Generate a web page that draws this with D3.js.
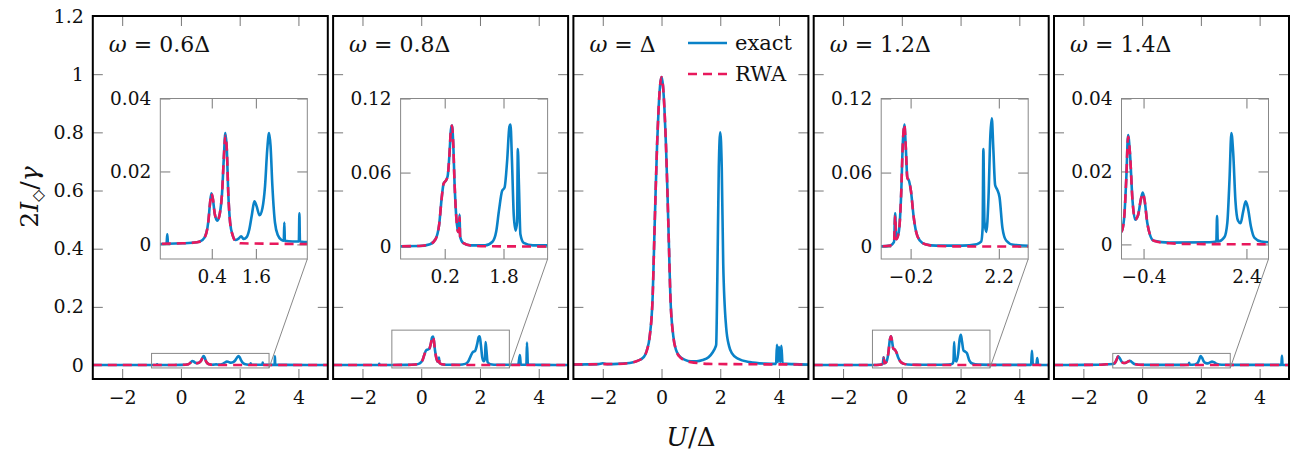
<!DOCTYPE html>
<html>
<head>
<meta charset="utf-8">
<script src="https://cdn.jsdelivr.net/npm/d3@7"></script>
<style>
  body { margin: 0; background: #fff; }
  text { font-family: "DejaVu Serif", serif; fill: #111; }
</style>
</head>
<body>
<svg id="chart" width="1291" height="452"></svg>
<script>
// values, [U/Δ, 2I/γ]
const omegaLabels = ["0.6", "0.8", "", "1.2", "1.4"];

const exact06 = [[-3, 0], [-1.5, 0], [-0.83, 0.0002], [-0.81, 0.0028], [-0.79, 0.0002], [-0.4, 0.0003], [0, 0.0006],
    [0.15, 0.0012], [0.25, 0.003], [0.31, 0.0065], [0.35, 0.011], [0.39, 0.014], [0.43, 0.0125], [0.48, 0.0085],
    [0.55, 0.0065], [0.62, 0.0085], [0.68, 0.014], [0.73, 0.024], [0.77, 0.0305], [0.81, 0.026], [0.85, 0.014],
    [0.9, 0.006], [0.97, 0.0025], [1.05, 0.0012], [1.12, 0.0015], [1.2, 0.0022], [1.27, 0.0015], [1.35, 0.002],
    [1.42, 0.004], [1.49, 0.008], [1.56, 0.0118], [1.62, 0.0105], [1.7, 0.008], [1.78, 0.01], [1.85, 0.016],
    [1.91, 0.026], [1.96, 0.0305], [2.0, 0.027], [2.05, 0.016], [2.12, 0.006], [2.2, 0.0025], [2.3, 0.0012],
    [2.36, 0.001], [2.375, 0.006], [2.39, 0.001], [2.6, 0.0008], [2.77, 0.0008], [2.785, 0.0085], [2.8, 0.0008],
    [3.1, 0.0006], [3.19, 0.0006], [3.2, 0.03], [3.21, 0.0006], [3.6, 0.0004], [5, 0]];
const rwa06 = [[-3, 0], [-0.4, 0.0003], [0, 0.0006], [0.15, 0.0012], [0.25, 0.003], [0.31, 0.0065], [0.35, 0.011],
    [0.39, 0.014], [0.43, 0.0125], [0.48, 0.0085], [0.55, 0.0065], [0.62, 0.0085], [0.68, 0.014], [0.73, 0.024],
    [0.77, 0.0298], [0.81, 0.026], [0.85, 0.014], [0.9, 0.006], [0.97, 0.0025], [1.05, 0.0008], [1.2, 0.0003], [5, 0]];

const exact08 = [[-3, 0], [-1.45, 0.0003], [-1.43, 0.004], [-1.41, 0.0003], [-0.5, 0.0005], [-0.2, 0.002],
    [-0.05, 0.006], [0.05, 0.018], [0.12, 0.04], [0.17, 0.051], [0.22, 0.053], [0.28, 0.057], [0.33, 0.075],
    [0.37, 0.095], [0.4, 0.098], [0.43, 0.085], [0.47, 0.05], [0.52, 0.022], [0.56, 0.012], [0.59, 0.012],
    [0.605, 0.026], [0.62, 0.008], [0.7, 0.003], [0.9, 0.001], [1.3, 0.001], [1.5, 0.004], [1.6, 0.012],
    [1.68, 0.03], [1.76, 0.045], [1.83, 0.048], [1.9, 0.07], [1.96, 0.097], [1.99, 0.099], [2.03, 0.07],
    [2.08, 0.025], [2.13, 0.013], [2.17, 0.02], [2.19, 0.079], [2.22, 0.05], [2.26, 0.01], [2.35, 0.003],
    [2.6, 0.001], [3.3, 0.001], [3.36, 0.034], [3.39, 0.001], [3.58, 0.001], [3.6, 0.077], [3.63, 0.002],
    [4, 0.0005], [5, 0]];
const rwa08 = [[-3, 0], [-0.5, 0.0005], [-0.2, 0.002], [-0.05, 0.006], [0.05, 0.018], [0.12, 0.04], [0.17, 0.051],
    [0.22, 0.053], [0.28, 0.057], [0.33, 0.075], [0.37, 0.095], [0.4, 0.098], [0.43, 0.085], [0.47, 0.05],
    [0.52, 0.022], [0.56, 0.012], [0.59, 0.012], [0.605, 0.024], [0.62, 0.008], [0.7, 0.003], [0.9, 0.001],
    [1.3, 0.0003], [5, 0]];

const exact10 = [[-3, 0.002], [-2.15, 0.003], [-2.0, 0.006], [-1.85, 0.003], [-1.5, 0.004], [-1, 0.009],
    [-0.8, 0.015], [-0.6, 0.028], [-0.5, 0.05], [-0.4, 0.1], [-0.3, 0.24], [-0.25, 0.42], [-0.2, 0.6],
    [-0.15, 0.76], [-0.1, 0.88], [-0.05, 0.96], [0, 0.99], [0.05, 0.96], [0.1, 0.88], [0.15, 0.76], [0.2, 0.6],
    [0.25, 0.42], [0.3, 0.24], [0.4, 0.1], [0.5, 0.05], [0.6, 0.032], [0.8, 0.018], [1.0, 0.013], [1.2, 0.013],
    [1.4, 0.017], [1.6, 0.027], [1.75, 0.045], [1.82, 0.058], [1.86, 0.07], [1.9, 0.3], [1.95, 0.68],
    [2.0, 0.8], [2.05, 0.68], [2.1, 0.35], [2.2, 0.13], [2.3, 0.065], [2.4, 0.04], [2.6, 0.022], [3.0, 0.01],
    [3.5, 0.005], [3.9, 0.004], [3.93, 0.07], [3.96, 0.01], [4.0, 0.062], [4.04, 0.01], [4.08, 0.066],
    [4.12, 0.005], [4.5, 0.003], [5, 0.002]];
const rwa10 = [[-3, 0.002], [-2, 0.003], [-1.5, 0.004], [-1, 0.009], [-0.8, 0.015], [-0.6, 0.028], [-0.5, 0.05],
    [-0.4, 0.1], [-0.3, 0.24], [-0.25, 0.42], [-0.2, 0.6], [-0.15, 0.76], [-0.1, 0.88], [-0.05, 0.96], [0, 0.99],
    [0.05, 0.96], [0.1, 0.88], [0.15, 0.76], [0.2, 0.6], [0.25, 0.42], [0.3, 0.24], [0.4, 0.1], [0.5, 0.05],
    [0.6, 0.03], [0.8, 0.016], [1.0, 0.01], [1.3, 0.006], [1.6, 0.004], [2.5, 0.003], [5, 0.002]];

const exact12 = [[-3, 0], [-1, 0.0003], [-0.75, 0.001], [-0.65, 0.004], [-0.62, 0.027], [-0.59, 0.006],
    [-0.52, 0.012], [-0.46, 0.04], [-0.41, 0.085], [-0.37, 0.099], [-0.33, 0.08], [-0.29, 0.056], [-0.24, 0.053],
    [-0.19, 0.045], [-0.12, 0.025], [-0.05, 0.012], [0.05, 0.005], [0.2, 0.002], [0.5, 0.0008], [1.2, 0.0008],
    [1.6, 0.002], [1.72, 0.004], [1.76, 0.015], [1.78, 0.079], [1.81, 0.02], [1.86, 0.012], [1.92, 0.04],
    [1.97, 0.09], [2.01, 0.104], [2.05, 0.08], [2.1, 0.05], [2.16, 0.046], [2.22, 0.04], [2.3, 0.015],
    [2.4, 0.005], [2.6, 0.0015], [3.5, 0.0005], [4.4, 0.0005], [4.43, 0.049], [4.46, 0.001], [4.58, 0.001],
    [4.61, 0.024], [4.64, 0.001], [5, 0]];
const rwa12 = [[-3, 0], [-1, 0.0003], [-0.75, 0.001], [-0.65, 0.004], [-0.62, 0.025], [-0.59, 0.006],
    [-0.52, 0.012], [-0.46, 0.04], [-0.41, 0.085], [-0.37, 0.099], [-0.33, 0.08], [-0.29, 0.056], [-0.24, 0.053],
    [-0.19, 0.045], [-0.12, 0.025], [-0.05, 0.012], [0.05, 0.005], [0.2, 0.002], [0.5, 0.0005], [1.2, 0.0002],
    [5, 0]];

const exact14 = [[-3, 0], [-2, 0.0004], [-1.5, 0.001], [-1.2, 0.0025], [-1.0, 0.0035], [-0.93, 0.007],
    [-0.87, 0.018], [-0.82, 0.03], [-0.77, 0.025], [-0.7, 0.012], [-0.63, 0.0068], [-0.55, 0.008],
    [-0.47, 0.0125], [-0.42, 0.0142], [-0.37, 0.012], [-0.3, 0.006], [-0.22, 0.0025], [-0.12, 0.001],
    [0.3, 0.0005], [1.4, 0.0006], [1.58, 0.0008], [1.6, 0.0078], [1.62, 0.0008], [1.8, 0.002], [1.88, 0.006],
    [1.94, 0.018], [1.99, 0.0305], [2.04, 0.025], [2.1, 0.012], [2.17, 0.0065], [2.24, 0.0058], [2.31, 0.009],
    [2.38, 0.0118], [2.44, 0.01], [2.52, 0.005], [2.62, 0.0018], [2.8, 0.0008], [3.5, 0.0004], [4.74, 0.0004],
    [4.76, 0.032], [4.78, 0.0005], [5, 0]];
const rwa14 = [[-3, 0], [-2, 0.0004], [-1.5, 0.001], [-1.2, 0.0025], [-1.0, 0.0035], [-0.93, 0.007],
    [-0.87, 0.018], [-0.82, 0.0295], [-0.77, 0.025], [-0.7, 0.012], [-0.63, 0.0068], [-0.55, 0.008],
    [-0.47, 0.0125], [-0.42, 0.014], [-0.37, 0.012], [-0.3, 0.006], [-0.22, 0.0025], [-0.12, 0.001],
    [0.3, 0.0003], [1, 0.0001], [5, 0]];

const mainXTicks = [-2, 0, 2, 4];
const mainYTicks = [0, 0.2, 0.4, 0.6, 0.8, 1, 1.2];
const insetXTicks = [[0.4, 1.6], [0.2, 1.8], null, [-0.2, 2.2], [-0.4, 2.4]];
const insetYTicks = [[0, 0.02, 0.04], [0, 0.06, 0.12], null, [0, 0.06, 0.12], [0, 0.02, 0.04]];
const insetYDomain = [[-0.004, 0.04], [-0.01, 0.12], null, [-0.01, 0.12], [-0.004, 0.04]];

const exactSeries = [exact06, exact08, exact10, exact12, exact14];
const rwaSeries = [rwa06, rwa08, rwa10, rwa12, rwa14];

const blue = "#0a82c8";
const red = "#e8185c";
const panelW = 235, panelStep = 240.3, panelX0 = 92.8;
const plotTop = 16, plotBottom = 379;
const inset = {left: 67.5, width: 147, top: 98.5, bottom: 259};

const svg = d3.select("#chart");

const x = d3.scaleLinear().domain([-3, 5]).range([0, panelW]);
const y = d3.scaleLinear().domain([-0.048, 1.2]).range([plotBottom, plotTop]);
const fmt = d3.format("~g");

function drawCurves(g, xs, ys, i, clipId) {
    const line = d3.line()
        .x(d => xs(d[0]))
        .y(d => ys(d[1]))
        .curve(d3.curveMonotoneX);
    const cg = g.append("g").attr("clip-path", `url(#${clipId})`);
    cg.append("path")
        .datum(exactSeries[i])
        .attr("d", line)
        .attr("fill", "none")
        .attr("stroke", blue)
        .attr("stroke-width", 2.6)
        .attr("stroke-linejoin", "round");
    cg.append("path")
        .datum(rwaSeries[i])
        .attr("d", line)
        .attr("fill", "none")
        .attr("stroke", red)
        .attr("stroke-width", 2.6)
        .attr("stroke-dasharray", "9,6");
}

function mirroredTicks(g, xs, ys, xTicks, yTicks, x0, x1, y0, y1, labelX, labelY, size) {
    const tickColor = "#777";
    const tickLen = 10;
    g.append("g")
        .attr("transform", `translate(0,${y1})`)
        .call(d3.axisBottom(xs).tickValues(xTicks).tickSize(-tickLen).tickPadding(labelX.pad)
            .tickFormat(labelX.show ? fmt : ""))
        .call(a => a.select(".domain").remove());
    g.append("g")
        .attr("transform", `translate(0,${y0})`)
        .call(d3.axisTop(xs).tickValues(xTicks).tickSize(-tickLen).tickFormat(""))
        .call(a => a.select(".domain").remove());
    g.append("g")
        .attr("transform", `translate(${x0},0)`)
        .call(d3.axisLeft(ys).tickValues(yTicks).tickSize(-tickLen).tickPadding(labelY.pad)
            .tickFormat(labelY.show ? fmt : ""))
        .call(a => a.select(".domain").remove());
    g.append("g")
        .attr("transform", `translate(${x1},0)`)
        .call(d3.axisRight(ys).tickValues(yTicks).tickSize(-tickLen).tickFormat(""))
        .call(a => a.select(".domain").remove());
    g.selectAll(".tick line").attr("stroke", tickColor).attr("stroke-width", 1);
    g.selectAll(".tick text")
        .attr("font-family", "DejaVu Serif, serif")
        .attr("font-size", size)
        .attr("fill", "#111");
}

omegaLabels.forEach((om, i) => {
    const g = svg.append("g").attr("transform", `translate(${panelX0 + i * panelStep},0)`);
    const clipId = "clip" + i;
    g.append("clipPath").attr("id", clipId)
        .append("rect").attr("x", 0).attr("y", plotTop).attr("width", panelW).attr("height", plotBottom - plotTop);

    const axesG = g.append("g");
    mirroredTicks(axesG, x, y, mainXTicks, mainYTicks, 0, panelW, plotTop, plotBottom,
        {show: true, pad: 12}, {show: i === 0, pad: 9}, 19);

    drawCurves(g, x, y, i, clipId);

    // title
    const t = g.append("text").attr("x", 16).attr("y", 52).attr("font-size", 22);
    t.append("tspan").attr("font-style", "italic").text("ω");
    t.append("tspan").attr("dx", 7).text("=");
    t.append("tspan").attr("dx", 7).text(om === "" ? "Δ" : `${om}Δ`);

    if (insetXTicks[i]) {
        const ix = d3.scaleLinear().domain([-1, 3]).range([inset.left, inset.left + inset.width]);
        const iy = d3.scaleLinear().domain(insetYDomain[i]).range([inset.bottom, inset.top]);
        const spyTop = insetYDomain[i][1];

        // zoom box on the main axes and the connecting line
        g.append("rect")
            .attr("x", x(-1)).attr("y", y(spyTop))
            .attr("width", x(3) - x(-1)).attr("height", y(-0.01) - y(spyTop))
            .attr("fill", "none").attr("stroke", "#888").attr("stroke-width", 1);
        g.append("line")
            .attr("x1", x(3)).attr("y1", y(-0.01))
            .attr("x2", inset.left + inset.width).attr("y2", inset.bottom)
            .attr("stroke", "#888").attr("stroke-width", 1);

        const ig = g.append("g");
        const iclip = "iclip" + i;
        ig.append("clipPath").attr("id", iclip)
            .append("rect").attr("x", inset.left).attr("y", inset.top)
            .attr("width", inset.width).attr("height", inset.bottom - inset.top);
        ig.append("rect")
            .attr("x", inset.left).attr("y", inset.top)
            .attr("width", inset.width).attr("height", inset.bottom - inset.top)
            .attr("fill", "#fff");
        mirroredTicks(ig.append("g"), ix, iy, insetXTicks[i], insetYTicks[i],
            inset.left, inset.left + inset.width, inset.top, inset.bottom,
            {show: true, pad: 11}, {show: true, pad: 9}, 18.5);
        drawCurves(ig, ix, iy, i, iclip);
        ig.append("rect")
            .attr("x", inset.left).attr("y", inset.top)
            .attr("width", inset.width).attr("height", inset.bottom - inset.top)
            .attr("fill", "none").attr("stroke", "#888").attr("stroke-width", 1);
    }

    g.append("rect")
        .attr("x", 0).attr("y", plotTop)
        .attr("width", panelW).attr("height", plotBottom - plotTop)
        .attr("fill", "none").attr("stroke", "#000").attr("stroke-width", 2);

    if (i === 2) {
        const legend = [{name: "exact", color: blue, dash: null, y: 43},
                        {name: "RWA", color: red, dash: "9,6", y: 74}];
        const lg = g.append("g");
        legend.forEach(d => {
            lg.append("line")
                .attr("x1", 114.6).attr("x2", 153.6)
                .attr("y1", d.y).attr("y2", d.y)
                .attr("stroke", d.color).attr("stroke-width", 2.6)
                .attr("stroke-dasharray", d.dash);
            lg.append("text")
                .attr("x", 161.6).attr("y", d.y + 7)
                .attr("font-size", 21)
                .text(d.name);
        });
    }
});

// axis labels
const xl = svg.append("text")
    .attr("x", panelX0 + 2 * panelStep + panelW / 2).attr("y", 446)
    .attr("text-anchor", "middle").attr("font-size", 26);
xl.append("tspan").attr("font-style", "italic").text("U");
xl.append("tspan").text("/Δ");

const yl = svg.append("text")
    .attr("transform", "translate(38,197) rotate(-90)")
    .attr("text-anchor", "middle").attr("font-size", 25);
yl.append("tspan").text("2");
yl.append("tspan").attr("font-style", "italic").text("I");
yl.append("tspan").attr("font-size", 16).attr("dy", 5).text("◇");
yl.append("tspan").attr("dy", -5).text("/");
yl.append("tspan").attr("font-style", "italic").text("γ");
</script>
</body>
</html>
